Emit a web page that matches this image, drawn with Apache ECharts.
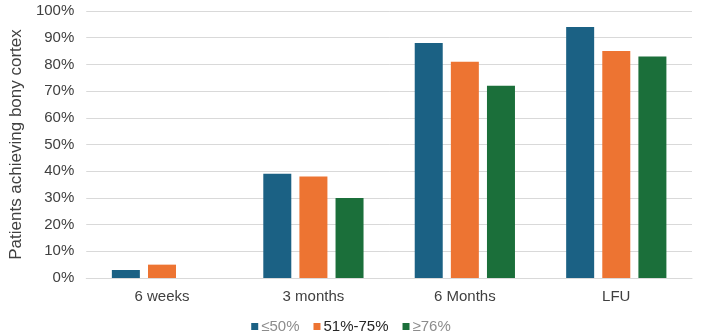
<!DOCTYPE html>
<html>
<head>
<meta charset="utf-8">
<script src="https://cdn.jsdelivr.net/npm/echarts@6/dist/echarts.min.js"></script>
<style>
  html, body { margin: 0; padding: 0; background: #fff; }
  #chart { width: 702px; height: 336px; }
</style>
</head>
<body>
<div id="chart"></div>
<script>
// time points on the x axis
const categories = ["6 weeks", "3 months", "6 Months", "LFU"];
// percent of patients per group
const groupLow = [3, 39, 88, 94];     // ≤50%
const groupMid = [5, 38, 81, 85];     // 51%-75%
const groupHigh = [0, 30, 72, 83];    // ≥76%
const seriesNames = ["≤50%", "51%-75%", "≥76%"];
const colors = ["#1B6184", "#ED7432", "#1B6F3A"];

const chart = echarts.init(document.getElementById("chart"));
const font = "Liberation Sans, Arial, sans-serif";

const option = {
    animation: false,
    grid: { left: 73, right: 10, top: 11, bottom: 58 },
    legend: {
        top: 314,
        left: "center",
        itemWidth: 7,
        itemHeight: 7,
        itemGap: 14,
        icon: "rect",
        textStyle: { fontFamily: font, fontSize: 15, color: "#8c8c8c", padding: [0, 0, 0, -2] },
        data: [
            { name: seriesNames[0] },
            { name: seriesNames[1], textStyle: { color: "#262626" } },
            { name: seriesNames[2] },
        ],
    },
    xAxis: {
        type: "category",
        data: categories,
        axisLine: { lineStyle: { color: "#d9d9d9", width: 1 } },
        axisTick: { show: false },
        axisLabel: { fontFamily: font, fontSize: 15, color: "#404040", margin: 11 },
    },
    yAxis: {
        type: "value",
        min: 0,
        max: 100,
        interval: 10,
        name: "Patients achieving bony cortex",
        nameLocation: "middle",
        nameGap: 61,
        nameTextStyle: { fontFamily: font, fontSize: 17, color: "#404040" },
        axisLabel: { formatter: "{value}%", fontFamily: font, fontSize: 15, color: "#404040", margin: 12 },
        splitLine: { lineStyle: { color: "#d9d9d9", width: 1 } },
    },
    series: [groupLow, groupMid, groupHigh].map((vals, i) => ({
        name: seriesNames[i],
        type: "bar",
        data: vals,
        barWidth: 28,
        barGap: "29%",
        itemStyle: { color: colors[i] },
    })),
};

chart.setOption(option);
</script>
</body>
</html>
